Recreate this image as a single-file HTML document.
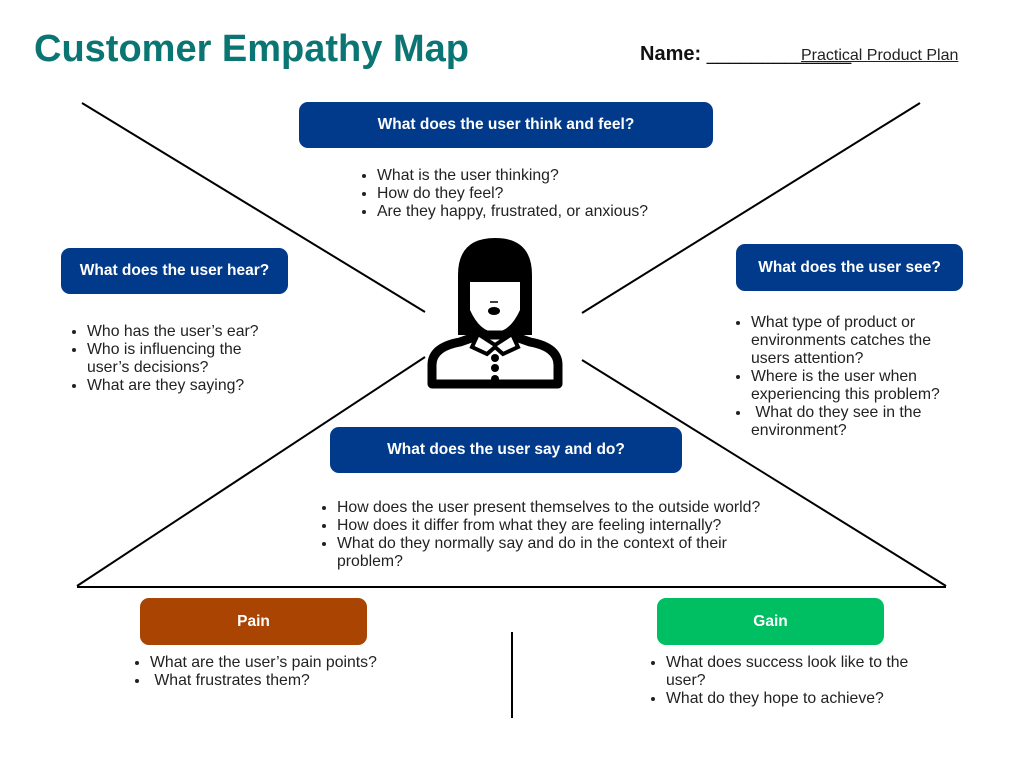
<!DOCTYPE html>
<html><head><style>
body{margin:0;width:1024px;height:768px;background:#fff;position:relative;overflow:hidden;font-family:"Liberation Sans",sans-serif;color:#222}
.t{position:absolute;left:34px;top:28px;font-size:38px;font-weight:bold;color:#0a7572}
.b{position:absolute;color:#fff;font-weight:bold;font-size:15.5px;display:flex;align-items:center;justify-content:center;border-radius:9px}
.blue{background:#013a8a}
ul{position:absolute;margin:0;padding-left:18px;font-size:15.8px;line-height:18px;color:#222}
</style></head><body>
<div class="t">Customer Empathy Map</div>
<div style="position:absolute;left:640px;top:43px;font-size:20px;font-weight:bold;color:#111">Name: <span style="font-weight:normal">_____________</span></div>
<div style="position:absolute;left:801px;top:47px;font-size:16px;text-decoration:underline;color:#222">Practical Product Plan</div>
<svg width="1024" height="768" style="position:absolute;left:0;top:0">
<g stroke="#000" stroke-width="2">
<line x1="82" y1="103" x2="425" y2="312"/><line x1="920" y1="103" x2="582" y2="313"/>
<line x1="425" y1="357" x2="77" y2="586"/><line x1="582" y1="360" x2="946" y2="586"/>
<line x1="77" y1="587" x2="946" y2="587"/><line x1="512" y1="632" x2="512" y2="718"/>
</g>
<path d="M458,335 L458,275 Q458,238 495,238 Q532,238 532,275 L532,335 Z" fill="#000"/>
<path d="M470,282 L520,282 L520,310 Q510,332 495,332 Q480,332 470,310 Z" fill="#fff"/>
<line x1="490" y1="302" x2="498" y2="302" stroke="#000" stroke-width="1.5"/>
<ellipse cx="494" cy="311" rx="6" ry="4" fill="#000"/>
<path d="M432,384 L432,365 Q432,347 460,342 L480,335 L510,335 L530,342 Q558,347 558,365 L558,384 Z" fill="none" stroke="#000" stroke-width="9" stroke-linejoin="round"/>
<path d="M478,334 L495,345 L512,334 L518,347 L503,354 L495,347 L487,354 L472,347 Z" fill="#fff" stroke="#000" stroke-width="4"/>
<circle cx="495" cy="358" r="4" fill="#000"/><circle cx="495" cy="368" r="4" fill="#000"/><circle cx="495" cy="379" r="4" fill="#000"/>
</svg>
<div class="b blue" style="left:299px;top:102px;width:414px;height:46px">What does the user think and feel?</div>
<ul style="left:359px;top:167px"><li>What is the user thinking?</li><li>How do they feel?</li><li>Are they happy, frustrated, or anxious?</li></ul>
<div class="b blue" style="left:61px;top:248px;width:227px;height:46px">What does the user hear?</div>
<ul style="left:69px;top:323px;width:180px"><li>Who has the user’s ear?</li><li>Who is influencing the user’s decisions?</li><li>What are they saying?</li></ul>
<div class="b blue" style="left:736px;top:244px;width:227px;height:47px">What does the user see?</div>
<ul style="left:733px;top:314px;width:215px"><li>What type of product or environments catches the users attention?</li><li>Where is the user when experiencing this problem?</li><li>&nbsp;What do they see in the environment?</li></ul>
<div class="b blue" style="left:330px;top:427px;width:352px;height:46px">What does the user say and do?</div>
<ul style="left:319px;top:499px;width:450px"><li>How does the user present themselves to the outside world?</li><li>How does it differ from what they are feeling internally?</li><li>What do they normally say and do in the context of their problem?</li></ul>
<div class="b" style="left:140px;top:598px;width:227px;height:47px;background:#a94402">Pain</div>
<ul style="left:132px;top:654px"><li>What are the user’s pain points?</li><li>&nbsp;What frustrates them?</li></ul>
<div class="b" style="left:657px;top:598px;width:227px;height:47px;background:#00bf63">Gain</div>
<ul style="left:648px;top:654px;width:250px"><li>What does success look like to the user?</li><li>What do they hope to achieve?</li></ul>
</body></html>
